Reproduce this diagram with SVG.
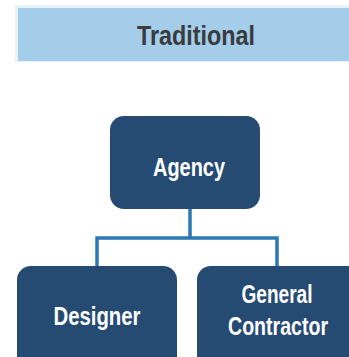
<svg xmlns="http://www.w3.org/2000/svg" width="349" height="357" viewBox="0 0 349 357">
<style>
.node{fill:#264b73;}
.lbl{fill:#ffffff;font-family:"Liberation Sans Narrow","Liberation Sans",Arial,sans-serif;font-weight:bold;font-size:25px;text-anchor:middle;}
.conn{fill:none;stroke:#2a78b4;stroke-width:3.5;}
</style>
<rect width="349" height="357" fill="#ffffff"/>
<g id="header">
<rect x="15" y="5" width="340" height="57" fill="#e6f1fa"/>
<rect x="18" y="8" width="336" height="53" fill="#a3cde8"/>
<text x="196" y="45" font-family="'Liberation Sans Narrow','Liberation Sans',Arial,sans-serif" font-weight="bold" font-size="28" fill="#3a3a3f" text-anchor="middle" textLength="118" lengthAdjust="spacingAndGlyphs">Traditional</text>
</g>
<g id="connectors">
<path class="conn" d="M190 208 V238 M97 266 V238 H277 V266"/>
</g>
<g id="agency">
<rect class="node" x="110" y="116" width="150" height="93" rx="14"/>
<text class="lbl" x="189" y="176" textLength="72" lengthAdjust="spacingAndGlyphs">Agency</text>
</g>
<g id="designer">
<rect class="node" x="17" y="266" width="160" height="110" rx="14"/>
<text class="lbl" x="97" y="325" textLength="87" lengthAdjust="spacingAndGlyphs">Designer</text>
</g>
<g id="contractor">
<rect class="node" x="197" y="266" width="170" height="110" rx="14"/>
<text class="lbl" x="277" y="303" textLength="71" lengthAdjust="spacingAndGlyphs">General</text>
<text class="lbl" x="278" y="335" textLength="100" lengthAdjust="spacingAndGlyphs">Contractor</text>
</g>
</svg>
